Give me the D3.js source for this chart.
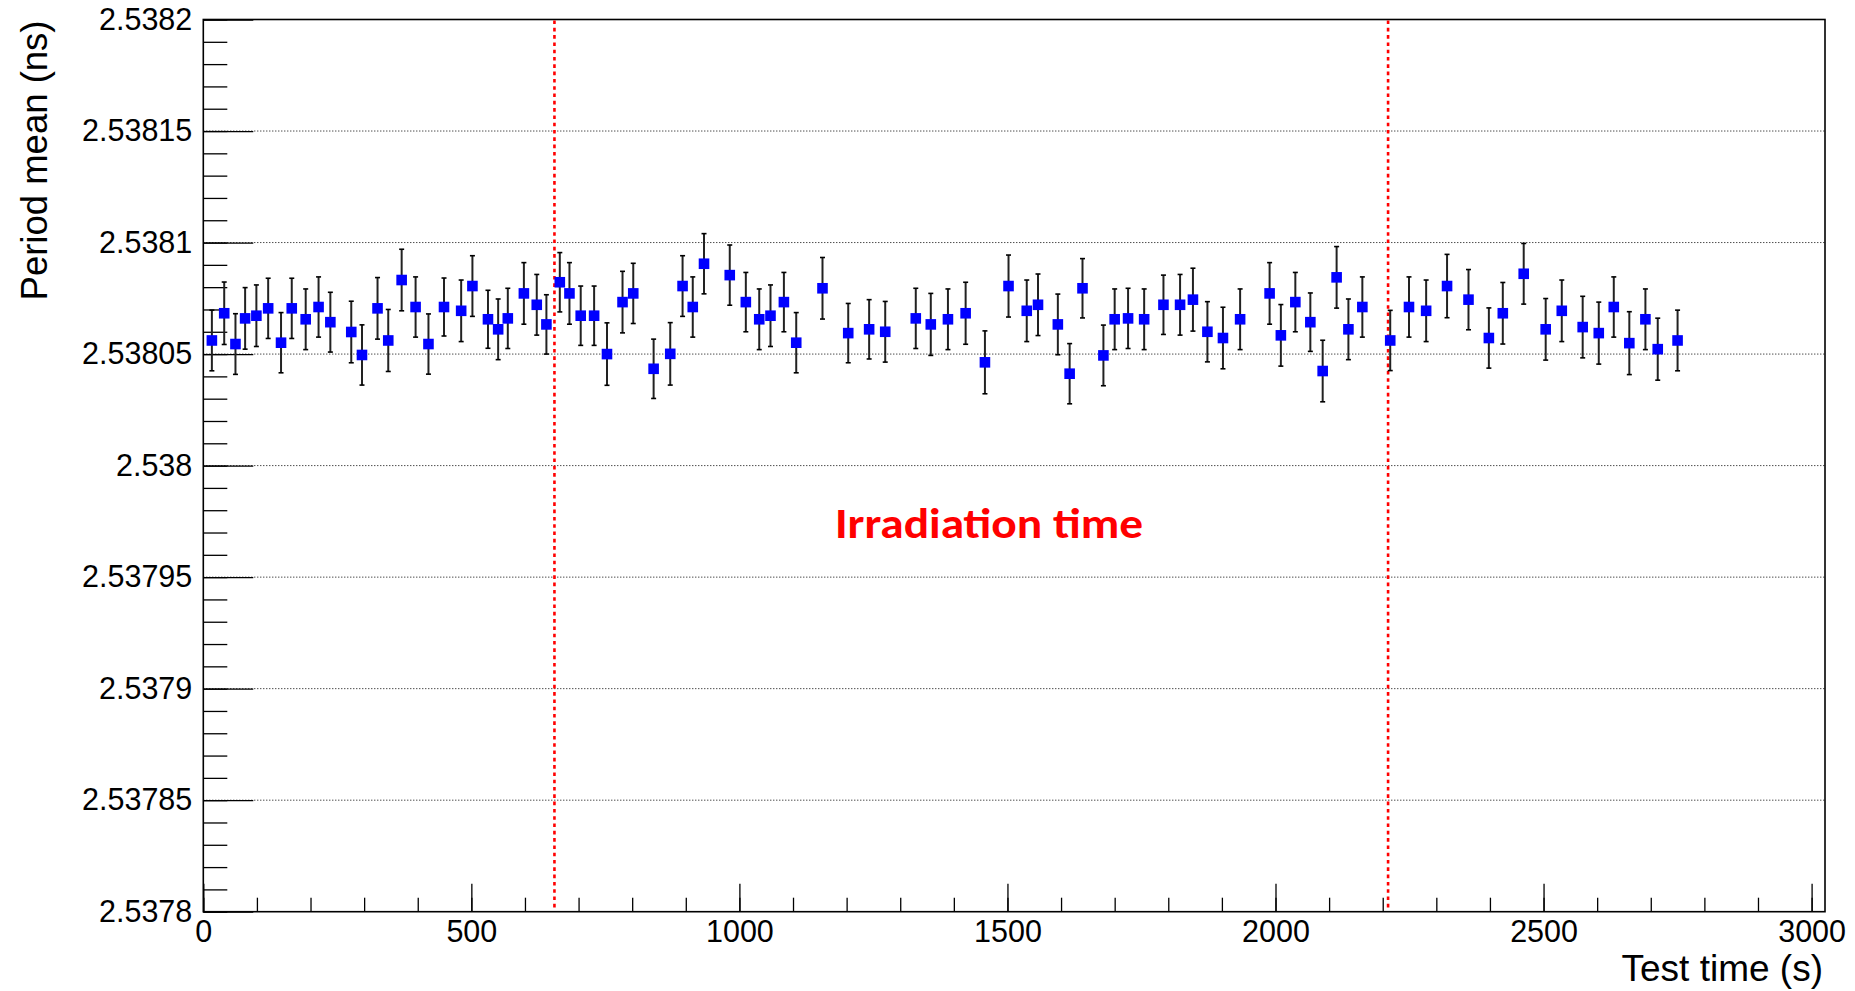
<!DOCTYPE html>
<html>
<head>
<meta charset="utf-8">
<script src="https://cdn.jsdelivr.net/npm/d3@7"></script>
<style>
  body { margin: 0; background: #fff; }
  svg { display: block; }
</style>
</head>
<body>
<div id="chart"></div>
<script>
// test time of each measurement (s)
var testTime = [16, 39, 60, 78, 99, 121, 145, 165, 191, 215, 237, 276, 296, 325, 345, 370, 396, 420, 449, 481,
  502, 531, 550, 568, 598, 622, 640, 665, 683, 704, 729, 753, 782, 802, 840, 871, 894, 913, 934, 982,
  1012, 1037, 1058, 1083, 1106, 1155, 1203, 1242, 1272, 1329, 1357, 1389, 1422, 1458, 1502, 1536, 1557, 1594, 1616, 1640,
  1679, 1700, 1725, 1755, 1791, 1822, 1846, 1873, 1902, 1934, 1989, 2010, 2037, 2065, 2088, 2114, 2136, 2162, 2214, 2249,
  2281, 2320, 2360, 2398, 2424, 2463, 2504, 2534, 2573, 2603, 2631, 2660, 2690, 2713, 2750];

// period mean (ns)
var periodMean = [2.5380561, 2.5380683, 2.5380545, 2.5380660, 2.5380672, 2.5380705, 2.5380551, 2.5380705, 2.5380656, 2.5380711,
  2.5380643, 2.5380599, 2.5380496, 2.5380705, 2.5380561, 2.5380832, 2.5380711, 2.5380545, 2.5380711, 2.5380694,
  2.5380805, 2.5380656, 2.5380611, 2.5380660, 2.5380772, 2.5380721, 2.5380633, 2.5380822, 2.5380772, 2.5380672,
  2.5380672, 2.5380500, 2.5380733, 2.5380772, 2.5380434, 2.5380501, 2.5380805, 2.5380711, 2.5380905, 2.5380854,
  2.5380733, 2.5380656, 2.5380672, 2.5380733, 2.5380551, 2.5380795, 2.5380594, 2.5380611, 2.5380600, 2.5380660,
  2.5380633, 2.5380656, 2.5380683, 2.5380463, 2.5380805, 2.5380694, 2.5380721, 2.5380633, 2.5380412, 2.5380795,
  2.5380494, 2.5380656, 2.5380660, 2.5380656, 2.5380721, 2.5380721, 2.5380744, 2.5380600, 2.5380572, 2.5380656,
  2.5380772, 2.5380584, 2.5380733, 2.5380643, 2.5380424, 2.5380844, 2.5380611, 2.5380711, 2.5380561, 2.5380711,
  2.5380694, 2.5380805, 2.5380744, 2.5380572, 2.5380683, 2.5380860, 2.5380611, 2.5380694, 2.5380621, 2.5380594,
  2.5380711, 2.5380549, 2.5380656, 2.5380522, 2.5380561];

// error on the period mean (units of 1e-5 ns)
var periodErr = [1.36, 1.40, 1.36, 1.38, 1.38, 1.35, 1.35, 1.35, 1.36, 1.35, 1.34, 1.38, 1.35, 1.38, 1.39, 1.38,
  1.35, 1.35, 1.30, 1.38, 1.36, 1.30, 1.36, 1.35, 1.38, 1.36, 1.33, 1.33, 1.38, 1.33, 1.33, 1.40,
  1.38, 1.35, 1.33, 1.40, 1.36, 1.35, 1.35, 1.35, 1.33, 1.36, 1.38, 1.33, 1.35, 1.38, 1.33, 1.33,
  1.36, 1.35, 1.39, 1.36, 1.39, 1.41, 1.39,
  1.38, 1.38, 1.36, 1.35, 1.33, 1.36, 1.36, 1.35, 1.36, 1.33, 1.36, 1.41, 1.35, 1.38, 1.36, 1.38,
  1.38, 1.33, 1.31, 1.38, 1.38, 1.36, 1.35, 1.35, 1.35,
  1.38, 1.42, 1.35, 1.35, 1.38, 1.36, 1.38, 1.38, 1.38, 1.39, 1.35, 1.41, 1.36, 1.39, 1.36];

// irradiation start / stop (s)
var irradiation = [655, 2210];

var xMajorTicks = [0, 500, 1000, 1500, 2000, 2500, 3000];
var xTickLabels = ["0", "500", "1000", "1500", "2000", "2500", "3000"];
var yMajorTicks = [2.5378, 2.53785, 2.5379, 2.53795, 2.538, 2.53805, 2.5381, 2.53815, 2.5382];
var yTickLabels = ["2.5378", "2.53785", "2.5379", "2.53795", "2.538", "2.53805", "2.5381", "2.53815", "2.5382"];

var W = 1855, H = 991;
var plotL = 203.3, plotR = 1825, plotT = 19.5, plotB = 911.7;
var font = "'Liberation Sans', Arial, Helvetica, sans-serif";

var svg = d3.select("#chart").append("svg")
  .attr("width", W).attr("height", H);

var x = d3.scaleLinear().domain([0, 3025]).range([plotL, plotR]);
var y = d3.scaleLinear().domain([2.5378, 2.5382]).range([plotB, plotT]);

// dotted horizontal grid
svg.append("g").selectAll("line")
  .data(yMajorTicks.slice(1, -1))
  .enter().append("line")
  .attr("x1", plotL).attr("x2", plotR)
  .attr("y1", function(d){ return y(d); })
  .attr("y2", function(d){ return y(d); })
  .attr("stroke", "#000")
  .attr("stroke-width", 1)
  .attr("stroke-dasharray", "1,2");

// y axis: minor ticks then major ticks with labels
var yMinor = d3.range(0, 41).map(function(i){ return 2.5378 + i * 0.00001; });
svg.append("g")
  .attr("transform", "translate(" + plotL + ",0)")
  .call(d3.axisLeft(y).tickValues(yMinor).tickSizeInner(-24).tickSizeOuter(0).tickFormat(""))
  .call(function(g){ g.select(".domain").remove(); })
  .selectAll("line").attr("stroke", "#000").attr("stroke-width", 1.3);

var yAxis = svg.append("g")
  .attr("transform", "translate(" + plotL + ",0)")
  .call(d3.axisLeft(y).tickValues(yMajorTicks).tickSizeInner(-50).tickSizeOuter(0).tickPadding(11)
    .tickFormat(function(d, i){ return yTickLabels[i]; }));
yAxis.select(".domain").remove();
yAxis.selectAll("line").attr("stroke", "#000").attr("stroke-width", 1.3);
yAxis.selectAll("text").attr("font-family", font).attr("font-size", 30.5).attr("fill", "#000");

// x axis: minor then major
var xMinor = d3.range(0, 31).map(function(i){ return i * 100; });
svg.append("g")
  .attr("transform", "translate(0," + plotB + ")")
  .call(d3.axisBottom(x).tickValues(xMinor).tickSizeInner(-14).tickSizeOuter(0).tickFormat(""))
  .call(function(g){ g.select(".domain").remove(); })
  .selectAll("line").attr("stroke", "#000").attr("stroke-width", 1.3);

var xAxis = svg.append("g")
  .attr("transform", "translate(0," + plotB + ")")
  .call(d3.axisBottom(x).tickValues(xMajorTicks).tickSizeInner(-28).tickSizeOuter(0).tickPadding(9)
    .tickFormat(function(d, i){ return xTickLabels[i]; }));
xAxis.select(".domain").remove();
xAxis.selectAll("line").attr("stroke", "#000").attr("stroke-width", 1.3);
xAxis.selectAll("text").attr("font-family", font).attr("font-size", 30.5).attr("fill", "#000");

// frame
svg.append("rect")
  .attr("x", plotL).attr("y", plotT)
  .attr("width", plotR - plotL).attr("height", plotB - plotT)
  .attr("fill", "none").attr("stroke", "#000").attr("stroke-width", 1.6);

// irradiation markers
svg.append("g").selectAll("line")
  .data(irradiation)
  .enter().append("line")
  .attr("x1", function(d){ return x(d); })
  .attr("x2", function(d){ return x(d); })
  .attr("y1", plotT + 1).attr("y2", plotB - 1)
  .attr("stroke", "#ff0000")
  .attr("stroke-width", 2.6)
  .attr("stroke-dasharray", "3.6,3.7");

// data with error bars
var points = testTime.map(function(t, i){
  return { t: t, v: periodMean[i], e: periodErr[i] * 1e-5 };
});

var bars = svg.append("g");
bars.selectAll("line.err")
  .data(points).enter().append("line")
  .attr("class", "err")
  .attr("x1", function(d){ return x(d.t); })
  .attr("x2", function(d){ return x(d.t); })
  .attr("y1", function(d){ return y(d.v + d.e); })
  .attr("y2", function(d){ return y(d.v - d.e); })
  .attr("stroke", "#222").attr("stroke-width", 2);
["hi", "lo"].forEach(function(k){
  bars.selectAll("line.cap-" + k)
    .data(points).enter().append("line")
    .attr("class", "cap-" + k)
    .attr("x1", function(d){ return x(d.t) - 2.5; })
    .attr("x2", function(d){ return x(d.t) + 2.5; })
    .attr("y1", function(d){ return y(k == "hi" ? d.v + d.e : d.v - d.e); })
    .attr("y2", function(d){ return y(k == "hi" ? d.v + d.e : d.v - d.e); })
    .attr("stroke", "#000").attr("stroke-width", 1.6);
});

svg.append("g").selectAll("rect")
  .data(points).enter().append("rect")
  .attr("x", function(d){ return x(d.t) - 5.3; })
  .attr("y", function(d){ return y(d.v) - 5.3; })
  .attr("width", 10.6).attr("height", 10.6)
  .attr("fill", "#0000ff");

// axis titles
svg.append("text")
  .attr("transform", "translate(47," + (plotT + 1) + ") rotate(-90)")
  .attr("text-anchor", "end")
  .attr("font-family", font).attr("font-size", 36.5)
  .text("Period mean (ns)");

svg.append("text")
  .attr("x", plotR - 2).attr("y", 981)
  .attr("text-anchor", "end")
  .attr("font-family", font).attr("font-size", 37)
  .text("Test time (s)");

// annotation
svg.append("text")
  .attr("x", 835).attr("y", 538)
  .attr("font-family", "Carlito, Lato, 'Open Sans', sans-serif")
  .attr("font-weight", "bold")
  .attr("font-size", 42)
  .attr("fill", "#ff0000")
  .attr("textLength", 308).attr("lengthAdjust", "spacingAndGlyphs")
  .text("Irradiation time");
</script>
</body>
</html>
